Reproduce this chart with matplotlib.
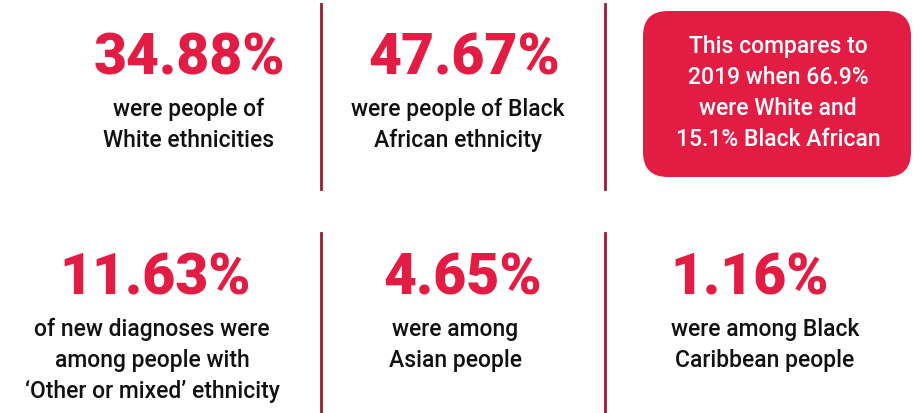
#!/usr/bin/env python3
# -*- coding: utf-8 -*-

"""
Infographic: new diagnoses by ethnicity, with a 2019 comparison box.
"""

import matplotlib
matplotlib.use("Agg")
from matplotlib import pyplot as plt
from matplotlib.patches import FancyBboxPatch

# DATA ########################################################################

top_values = ["34.88%", "47.67%"]
top_captions = ["were people of\nWhite ethnicities",
                "were people of Black\nAfrican ethnicity"]

bottom_values = ["11.63%", "4.65%", "1.16%"]
bottom_captions = ["of new diagnoses were\namong people with\n\u2018Other or mixed\u2019 ethnicity",
                   "were among\nAsian people",
                   "were among Black\nCaribbean people"]

box_text = "This compares to\n2019 when 66.9%\nwere White and\n15.1% Black African"

# STYLE #######################################################################

RED = "#e31c43"
LINE = "#9b1c31"
FONT = "Roboto"

# PLOT ########################################################################

fig = plt.figure(figsize=(9.21, 4.14), dpi=100)
ax = fig.add_axes([0, 0, 1, 1])
ax.set_xlim(0, 921)
ax.set_ylim(414, 0)
ax.axis("off")

# Dividers
for x in (321, 605):
    ax.plot([x, x], [5, 190], color=LINE, lw=2)
    ax.plot([x, x], [234, 414], color=LINE, lw=2)

# Top row
top_x = [189, 464]
top_cap_x = [189, 458]
for x, cx, val, cap in zip(top_x, top_cap_x, top_values, top_captions):
    ax.text(x, 59, val, color=RED, fontsize=41, fontweight="heavy",
            family=FONT, ha="center", va="center")
    ax.text(cx, 125, cap, color="#111111", fontsize=16.5, family=FONT,
            fontweight="medium", ha="center", va="center", linespacing=1.45)

# Comparison box
box = FancyBboxPatch((643 + 25, 12 + 25), 268 - 50, 166 - 50,
                     boxstyle="round,pad=25", fc=RED, ec="none")
ax.add_patch(box)
ax.text(778, 93, box_text, color="white", fontsize=16.5, family=FONT,
        fontweight="medium", ha="center", va="center", linespacing=1.45)

# Bottom row
bot_x = [155, 463, 750]
bot_cap_x = [152, 455, 765]
bot_cap_y = [360, 345, 345]
for x, cx, cy, val, cap in zip(bot_x, bot_cap_x, bot_cap_y,
                               bottom_values, bottom_captions):
    ax.text(x, 279, val, color=RED, fontsize=41, fontweight="heavy",
            family=FONT, ha="center", va="center")
    ax.text(cx, cy, cap, color="#111111", fontsize=16.5, family=FONT,
            fontweight="medium", ha="center", va="center", linespacing=1.45)

fig.savefig("out.png", dpi=100)
